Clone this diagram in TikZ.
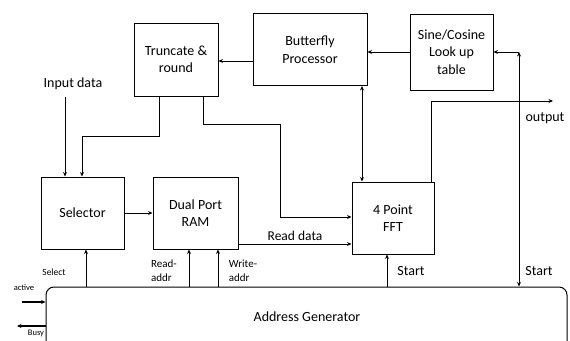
\documentclass[tikz,border=0pt]{standalone}
\usepackage{fontspec}
\setmainfont{Carlito}
\usetikzlibrary{arrows.meta,calc}
\begin{document}
\begin{tikzpicture}[x=1pt,y=-1pt,
  blk/.style={draw,line width=1pt,align=center,font=\fontsize{14}{17.5}\selectfont,inner sep=0pt},
  con/.style={line width=0.75pt},
  arr/.style={con,-{Stealth[length=4.5pt,width=4pt]}},
  barr/.style={con,{Stealth[length=4.5pt,width=4pt]}-{Stealth[length=4.5pt,width=4pt]}},
  lbl/.style={font=\fontsize{13.5}{15}\selectfont,align=left,inner sep=0pt},
  sml/.style={font=\fontsize{11}{14}\selectfont,align=left,inner sep=0pt},
  tiny/.style={font=\fontsize{8.5}{10}\selectfont,inner sep=0pt}]
\clip (0,0) rectangle (570,340);
\fill[white] (0,0) rectangle (570,340);
% blocks
\node[blk,minimum width=84pt,minimum height=73pt] (trunc) at (176,59.5) {Truncate \&\\round};
\node[blk,minimum width=114pt,minimum height=72pt] (bf) at (310,49.5) {Butterfly\\Processor};
\node[blk,minimum width=83pt,minimum height=76pt] (sine) at (451.5,52) {Sine/Cosine\\Look up\\table};
\node[blk,minimum width=83pt,minimum height=72pt] (sel) at (82.5,213) {Selector};
\node[blk,minimum width=85pt,minimum height=72pt] (ram) at (195.5,213) {Dual Port\\RAM};
\node[blk,minimum width=82pt,minimum height=72pt] (fft) at (393,218) {4 Point\\FFT};
\node[blk,rounded corners=8pt,minimum width=521pt,minimum height=70pt] (addr) at (306.5,322) {};
\node[font=\fontsize{14}{17}\selectfont,inner sep=0pt] (addrtxt) at (307,317) {Address Generator};
% helper coordinates
\coordinate (cin) at (65,97);
\coordinate (t1) at (159,136);
\coordinate (t1b) at (82,136);
\coordinate (t2) at (203,124);
\coordinate (t2b) at (280,124);
\coordinate (t2c) at (280,217);
\coordinate (bfx) at (362,0);
\coordinate (ox) at (431,101);
\coordinate (out) at (553,101);
\coordinate (st) at (519,52);
\coordinate (act) at (22,302);
\coordinate (busy) at (17,326);
\coordinate (sx) at (86,0);
\coordinate (rx) at (189,0);
\coordinate (wx) at (218,0);
\coordinate (fx) at (387,0);
\coordinate (y61) at (0,61);
\coordinate (y244) at (0,244);
% connectors
\draw[arr] (sine.west) -- (bf.east |- sine.west);
\draw[arr] (bf.west |- y61) -- (trunc.east |- y61);
\draw[barr] (bf.south -| bfx) -- (fft.north -| bfx);
\draw[arr] (fft.north -| ox) -- (ox) -- (out);
\draw[arr] (st) -- (sine.east |- st);
\draw[barr] (st) -- (addr.north -| st);
\draw[arr] (cin) -- (sel.north -| cin);
\draw[arr] (trunc.south -| t1) -- (t1) -- (t1b) -- (sel.north -| t1b);
\draw[arr] (trunc.south -| t2) -- (t2) -- (t2b) -- (t2c) -- (fft.west |- t2c);
\draw[arr] (sel.east) -- (ram.west |- sel.east);
\draw[arr] (ram.east |- y244) -- node[lbl,above=3pt] (rdl) {Read data} (fft.west |- y244);
\draw[arr,line width=1pt] (addr.north -| sx) -- (sel.south -| sx);
\draw[arr] (addr.north -| rx) -- (ram.south -| rx);
\draw[arr] (addr.north -| wx) -- (ram.south -| wx);
\draw[arr] (addr.north -| fx) -- (fft.south -| fx);
\draw[arr,line width=1.3pt] (act) -- (addr.west |- act);
\draw[arr,line width=1.3pt] (addr.west |- busy) -- (busy);
% labels
\node[font=\fontsize{14}{16}\selectfont,inner sep=0pt] (inl) at (73,84) {Input data};
\node[lbl,font=\fontsize{14}{16}\selectfont] (outl) at (545,118) {output};
\node[lbl,font=\fontsize{14}{16}\selectfont] (s1) at (411,271) {Start};
\node[lbl,font=\fontsize{14}{16}\selectfont] (s2) at (539,271) {Start};
\node[tiny,font=\fontsize{9.5}{11}\selectfont] (sell) at (54,272) {Select};
\node[sml] (rdal) at (164,271) {Read-\\addr};
\node[sml] (wral) at (243,271) {Write-\\addr};
\node[tiny] (actl) at (24,288) {active};
\node[tiny] (busyl) at (36,333) {Busy};
\end{tikzpicture}
\end{document}
